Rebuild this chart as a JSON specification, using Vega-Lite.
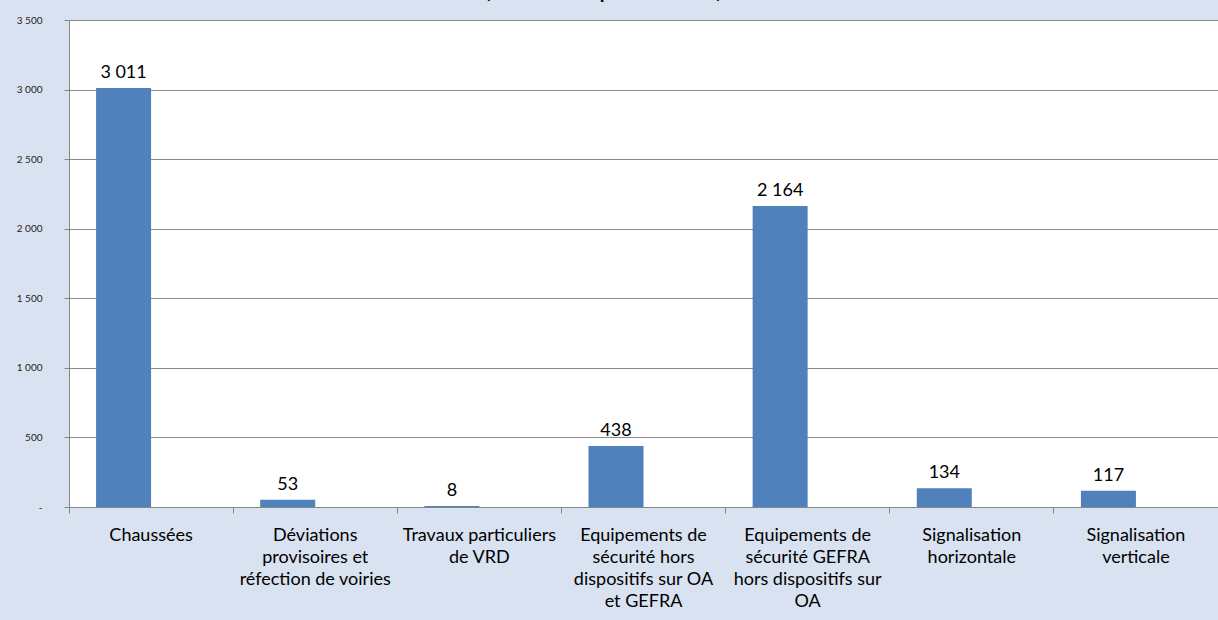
{
  "$schema": "https://vega.github.io/schema/vega-lite/v6.json",
  "width": 1149,
  "height": 487,
  "autosize": {"type": "none"},
  "padding": {"left": 69, "top": 20, "right": 0, "bottom": 113},
  "background": "#d9e2f1",
  "title": {
    "text": "(en tonnes équivalent CO₂)",
    "font": "Lato",
    "fontSize": 20,
    "fontWeight": "bold",
    "color": "#000000",
    "anchor": "start",
    "frame": "group",
    "dx": 416,
    "dy": 11,
    "baseline": "alphabetic",
    "offset": 8
  },
  "config": {
    "view": {"stroke": null, "fill": "#ffffff"},
    "locale": {"number": {"decimal": ",", "thousands": " ", "grouping": [3], "currency": ["", " €"]}},
    "font": "Lato"
  },
  "data": {
    "values": [
      {"categorie": "Chaussées", "serie": "A", "valeur": 3011},
      {"categorie": "Déviations provisoires et réfection de voiries", "serie": "A", "valeur": 53},
      {"categorie": "Travaux particuliers de VRD", "serie": "A", "valeur": 8},
      {"categorie": "Equipements de sécurité hors dispositifs sur OA et GEFRA", "serie": "A", "valeur": 438},
      {"categorie": "Equipements de sécurité GEFRA hors dispositifs sur OA", "serie": "A", "valeur": 2164},
      {"categorie": "Signalisation horizontale", "serie": "A", "valeur": 134},
      {"categorie": "Signalisation verticale", "serie": "A", "valeur": 117}
    ]
  },
  "encoding": {
    "x": {
      "field": "categorie",
      "type": "nominal",
      "sort": null,
      "scale": {"paddingInner": 0, "paddingOuter": 0},
      "axis": {
        "title": null,
        "bandPosition": 0,
        "labelAngle": 0,
        "labelFont": "Lato",
        "labelFontSize": 18,
        "labelColor": "#000000",
        "labelLineHeight": 22,
        "labelBaseline": "top",
        "labelPadding": 13,
        "labelLimit": 400,
        "tickSize": 6,
        "tickColor": "#868686",
        "domainColor": "#868686",
        "grid": false,
        "labelExpr": "datum.label == 'Chaussées' ? ['Chaussées'] : datum.label == 'Déviations provisoires et réfection de voiries' ? ['Déviations', 'provisoires et', 'réfection de voiries'] : datum.label == 'Travaux particuliers de VRD' ? ['Travaux particuliers', 'de VRD'] : datum.label == 'Equipements de sécurité hors dispositifs sur OA et GEFRA' ? ['Equipements de', 'sécurité hors', 'dispositifs sur OA', 'et GEFRA'] : datum.label == 'Equipements de sécurité GEFRA hors dispositifs sur OA' ? ['Equipements de', 'sécurité GEFRA', 'hors dispositifs sur', 'OA'] : datum.label == 'Signalisation horizontale' ? ['Signalisation', 'horizontale'] : ['Signalisation', 'verticale']"
      }
    },
    "xOffset": {
      "field": "serie",
      "type": "nominal",
      "scale": {"domain": ["A", "B"], "paddingInner": 0, "paddingOuter": 0.492}
    },
    "y": {
      "field": "valeur",
      "type": "quantitative",
      "scale": {"domain": [0, 3500], "nice": false},
      "axis": {
        "title": null,
        "values": [0, 500, 1000, 1500, 2000, 2500, 3000, 3500],
        "format": ",d",
        "labelExpr": "datum.value == 0 ? '-' : datum.label",
        "labelFont": "Lato",
        "labelFontSize": 10,
        "labelColor": "#222222",
        "labelPadding": 22,
        "tickSize": 5,
        "tickColor": "#868686",
        "domainColor": "#868686",
        "gridColor": "#8a8a8a",
        "gridOpacity": 1
      }
    }
  },
  "layer": [
    {"mark": {"type": "bar", "color": "#4f81bd"}},
    {
      "mark": {"type": "text", "baseline": "alphabetic", "dy": -10, "font": "Lato", "fontSize": 18, "color": "#000000"},
      "encoding": {"text": {"field": "valeur", "type": "quantitative", "format": ",d"}}
    }
  ]
}
